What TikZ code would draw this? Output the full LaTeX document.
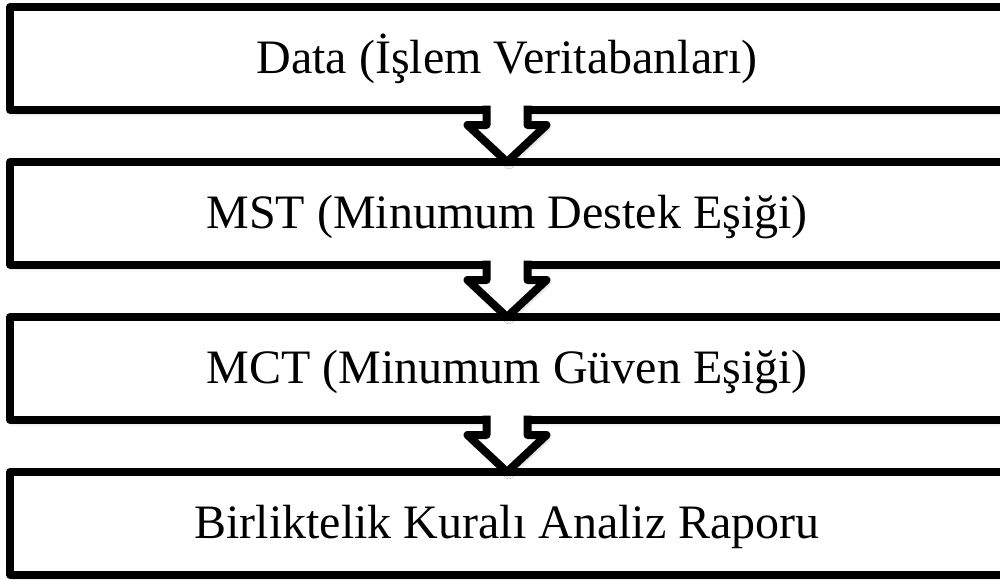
\documentclass[tikz,border=0pt]{standalone}
\usepackage{fontspec}
\setmainfont{Liberation Serif}
\usetikzlibrary{calc,shadows.blur}
\begin{document}
\begin{tikzpicture}[x=1pt,y=-1pt,
  box/.style={draw=black, line width=8pt, fill=white, line join=round, rectangle,
    minimum width=994pt, minimum height=102.5pt, inner sep=0pt, outer sep=0pt,
    text height=32pt, text depth=2pt, font=\fontsize{48}{56}\selectfont,
    blur shadow={shadow xshift=2pt, shadow yshift=-3pt, shadow blur radius=4pt, shadow opacity=35}},
  arrowfill/.style={fill=white,
    blur shadow={shadow xshift=2pt, shadow yshift=-3pt, shadow blur radius=4pt, shadow opacity=35}},
  arrowline/.style={draw=black, line width=8pt, line join=round}
]
\useasboundingbox (0,0) rectangle (1000,579);
\clip (0,0) rectangle (1000,579);
\node[box] (b1) at (507,58.25) {Data (İşlem Veritabanları)};
\node[box] (b2) at (507,213.25) {MST (Minumum Destek Eşiği)};
\node[box] (b3) at (507,368.25) {MCT (Minumum Güven Eşiği)};
\node[box] (b4) at (507,523.25) {Birliktelik Kuralı Analiz Raporu};
\foreach \a/\b in {b1/b2,b2/b3,b3/b4}{
  \fill[arrowfill] ($(\a.south)+(-20.5,1)$) -- ($(\a.south)+(-20.5,15.5)$) -- ($(\a.south)+(-39.5,15.5)$) -- (\b.north) -- ($(\a.south)+(39.5,15.5)$) -- ($(\a.south)+(20.5,15.5)$) -- ($(\a.south)+(20.5,1)$) -- cycle;
  \fill[white] ($(\a.south)+(-20.5,-4.5)$) rectangle ($(\a.south)+(20.5,2)$);
  \draw[arrowline] ($(\a.south)+(-20.5,-4)$) -- ($(\a.south)+(-20.5,15.5)$) -- ($(\a.south)+(-39.5,15.5)$) -- (\b.north) -- ($(\a.south)+(39.5,15.5)$) -- ($(\a.south)+(20.5,15.5)$) -- ($(\a.south)+(20.5,-4)$);
}
\end{tikzpicture}
\end{document}
